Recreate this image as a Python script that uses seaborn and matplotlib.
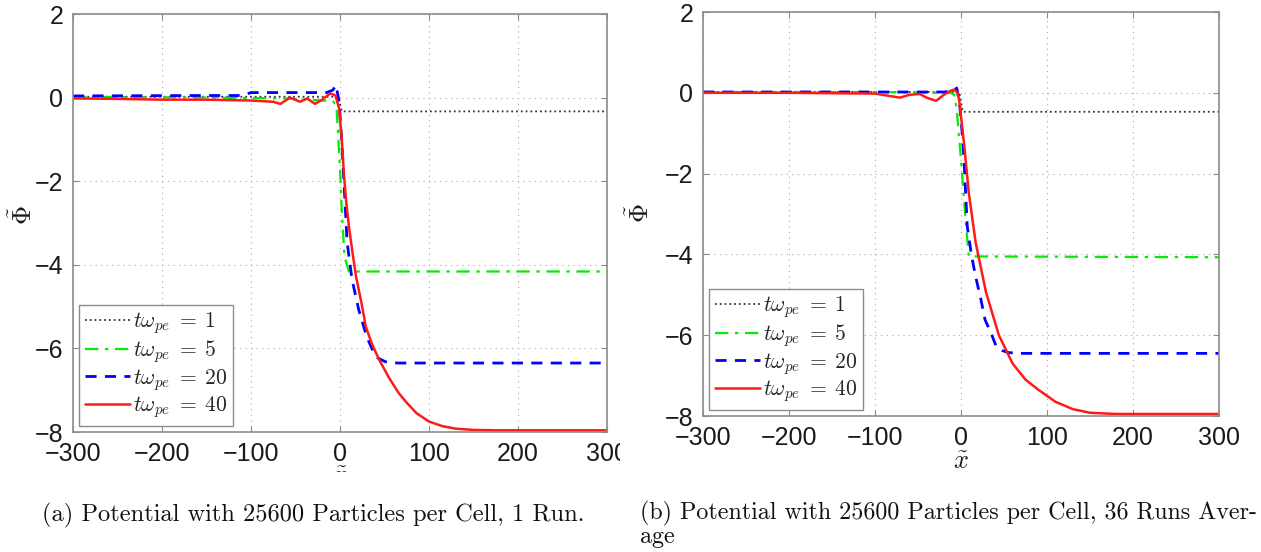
import matplotlib
matplotlib.use("Agg")
import matplotlib.pyplot as plt
import seaborn as sns
import numpy as np
from matplotlib.patches import Rectangle

# ---------------- data ----------------
# panel (a): 1 run
a_x1 = [-300, -2, 2, 300]
a_y1 = [0.02, 0.02, -0.33, -0.33]

a_x5 = [-300, -150, -60, -20, -8, -4, 0, 2, 5, 10, 300]
a_y5 = [0.02, 0.0, -0.02, -0.07, -0.08, -0.2, -1.7, -2.7, -3.8, -4.16, -4.16]

a_x20 = [-300, -150, -110, -100, -50, -15, -8, -4.5, -1, 2, 5, 8, 13.5, 21, 30, 40, 51, 65, 300]
a_y20 = [0.04, 0.05, 0.05, 0.12, 0.12, 0.12, 0.18, 0.3, -0.1, -1.05, -2.26, -3.46, -4.35, -5.07, -5.72, -6.2, -6.32, -6.35, -6.35]

a_x40 = [-300, -250, -200, -150, -100, -75, -67, -56, -45, -37, -28, -20, -11, -5, -1, 2, 4.5, 7, 10,
         14, 18, 24, 29, 36, 44, 55, 66, 75, 86, 100, 115, 130, 150, 175, 300]
a_y40 = [-0.02, -0.03, -0.05, -0.05, -0.07, -0.1, -0.15, 0.0, -0.1, -0.02, -0.15, -0.05, 0.1, 0.05, -0.26,
         -1.0, -1.87, -2.5, -3.08, -3.7, -4.28, -4.9, -5.48, -5.9, -6.27, -6.7, -7.07, -7.3, -7.55, -7.75,
         -7.86, -7.92, -7.95, -7.96, -7.96]

# panel (b): 36 runs average
b_x1 = [-300, -2, 2, 300]
b_y1 = [0.02, 0.02, -0.47, -0.47]

b_x5 = [-300, -100, -30, -12, -8, -5, 0, 3, 6, 9, 300]
b_y5 = [0.02, 0.02, 0.0, 0.0, -0.05, -0.4, -1.67, -2.5, -3.3, -4.05, -4.07]

b_x20 = [-300, -100, -20, -8, -5, -2, 1, 3.5, 7.3, 12, 17, 23, 28, 35, 41, 48, 55, 70, 300]
b_y20 = [0.02, 0.02, 0.02, 0.05, 0.12, -0.2, -0.9, -1.66, -3.31, -4.0, -4.55, -5.1, -5.62, -5.95, -6.28,
         -6.38, -6.43, -6.45, -6.45]

b_x40 = [-300, -200, -100, -71, -60, -48, -40, -29, -20, -12, -8, -4, -2, 3.5, 9, 17, 29, 44, 60, 75, 90,
         110, 130, 150, 180, 300]
b_y40 = [0.0, 0.0, -0.02, -0.12, -0.05, -0.03, -0.12, -0.2, -0.05, 0.05, 0.08, 0.0, -0.2, -1.25, -2.47,
         -3.7, -4.93, -6.0, -6.7, -7.1, -7.35, -7.65, -7.83, -7.92, -7.95, -7.95]

labels = [r"$t\omega_{pe}\;=\;1$", r"$t\omega_{pe}\;=\;5$", r"$t\omega_{pe}\;=\;20$", r"$t\omega_{pe}\;=\;40$"]
xticks = [-300, -200, -100, 0, 100, 200, 300]
yticks = [-8, -6, -4, -2, 0, 2]
captions = ["(a) Potential with 25600 Particles per Cell, 1 Run.",
            "(b) Potential with 25600 Particles per Cell, 36 Runs Aver-",
            "age"]

# ---------------- styling ----------------
sns.set_style("white")
plt.rcParams['font.family'] = ['Liberation Sans', 'DejaVu Sans']
plt.rcParams['mathtext.fontset'] = 'cm'

colors = ['#333333', '#00ee00', '#0000ff', '#ff1a1a']
styles = [dict(linestyle=':', linewidth=1.3),
          dict(linestyle='-.', linewidth=1.6, dashes=(6, 3, 1.5, 3)),
          dict(linestyle='--', linewidth=2.0, dashes=(4, 3)),
          dict(linestyle='-', linewidth=1.8)]

W, H = 1261, 552
fig = plt.figure(figsize=(W / 100, H / 100), dpi=100)

def px_axes(l, t, r, b):
    return fig.add_axes([l / W, 1 - b / H, (r - l) / W, (b - t) / H])

axA = px_axes(73, 14, 607, 432)
axB = px_axes(703, 12, 1219, 416)

panels = [(axA, [(a_x1, a_y1), (a_x5, a_y5), (a_x20, a_y20), (a_x40, a_y40)]),
          (axB, [(b_x1, b_y1), (b_x5, b_y5), (b_x20, b_y20), (b_x40, b_y40)])]

for ax, series in panels:
    for (xs, ys), c, st, lab in zip(series, colors, styles, labels):
        kw = dict(st)
        dashes = kw.pop('dashes', None)
        line = sns.lineplot(x=xs, y=ys, ax=ax, color=c, label=lab, sort=False,
                            estimator=None, **kw).lines[-1]
        if dashes is not None:
            line.set_dashes(dashes)
    ax.set_xlim(-300, 300)
    ax.set_ylim(-8, 2)
    ax.set_xticks(xticks)
    ax.set_yticks(yticks)
    ax.grid(True, linestyle=(0, (1, 4)), color='#a8a8a8', linewidth=0.8)
    for s in ax.spines.values():
        s.set_visible(True)
        s.set_color('#8c8c8c')
        s.set_linewidth(1.2)
    ax.tick_params(direction='in', length=4, width=0.8, color='#8c8c8c',
                   labelsize=18, labelcolor='#1a1a1a', pad=7,
                   top=True, right=True, bottom=True, left=True)
    leg = ax.legend(loc='lower left', fontsize=15.5, frameon=True, fancybox=False,
                    edgecolor='#8c8c8c', framealpha=1, handlelength=2.1,
                    handletextpad=0.15, labelspacing=0.08, borderpad=0.25,
                    borderaxespad=0.3)
    leg.get_frame().set_linewidth(1.0)
    ax.set_ylabel(r"$\tilde{\Phi}$", fontsize=19, color='#1a1a1a')
    ax.set_xlabel(r"$\tilde{x}$", fontsize=19, color='#1a1a1a')

axA.yaxis.set_label_coords((37 - 73) / 534, (432 - 215) / 418)
axB.yaxis.set_label_coords((654 - 703) / 516, (416 - 213) / 404)
axA.xaxis.set_label_coords(0.5, -(465 - 432) / 418)
axB.xaxis.set_label_coords(0.5, -(450 - 416) / 404)

# reference image is cropped: hide parts of panel (a)'s x label and last tick label
fig.patches.append(Rectangle((325 / W, 1 - 497 / H), 40 / W, 25 / H, transform=fig.transFigure,
                             facecolor='white', edgecolor='none', zorder=10))
fig.patches.append(Rectangle((620 / W, 1 - 470 / H), 13 / W, 34 / H, transform=fig.transFigure,
                             facecolor='white', edgecolor='none', zorder=10))

cap_kw = dict(fontfamily='cmr10', va='center', ha='left', color='#111111')
fig.text(42 / W, 1 - 515 / H, captions[0], fontsize=17.6, **cap_kw)
fig.text(640 / W, 1 - 513 / H, captions[1], fontsize=17.3, **cap_kw)
fig.text(640 / W, 1 - 537 / H, captions[2], fontsize=17.3, **cap_kw)

fig.savefig("out.png", dpi=100, facecolor='white')
